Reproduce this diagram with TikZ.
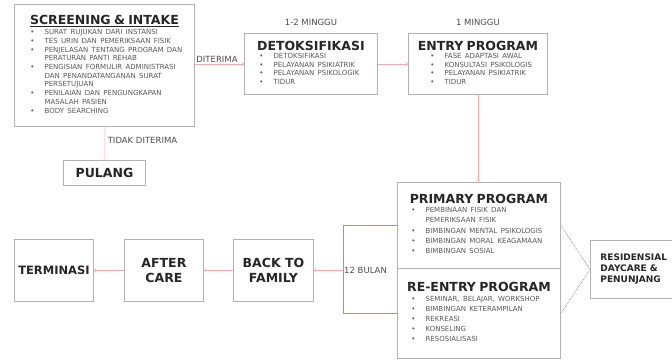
\documentclass[tikz,border=0pt]{standalone}
\usepackage{fontspec}
\setmainfont{DejaVu Sans}
\usepackage{tikz}
\usetikzlibrary{arrows,calc,positioning}
\definecolor{merahmuda}{RGB}{236,120,120}

\tikzset{
  kotak/.style={draw=black!30, line width=0.9pt, fill=white, anchor=north west, inner xsep=4pt, inner ysep=2pt},
  judul/.style={font=\fontsize{12.5}{15}\selectfont\bfseries, text=black!85, align=center},
  ket/.style={font=\fontsize{8.5}{10}\selectfont, text=black!70, inner sep=1pt},
  alur/.style={draw=red!35, line width=0.7pt, ->},
  kurung/.style={draw=merahmuda, line width=1pt},
  garis/.style={draw=black!45, densely dotted, line width=0.7pt},
}
\newcommand{\kepala}[1]{{\centering\fontsize{12.5}{15}\selectfont\bfseries\color{black!85}#1\par}\vspace{1pt}}
\newcommand{\daftar}[2][11pt]{{\noindent\fontsize{7}{8.7}\selectfont\color{black!65}\begin{tabular}{@{\hspace{#1}}l@{\hspace{10pt}}l@{}}#2\end{tabular}\par}}

\begin{document}
\begin{tikzpicture}[x=1pt,y=-1pt]
\fill[white] (0,0) rectangle (672,361);
\useasboundingbox (0,0) rectangle (672,361);

\node[kotak, minimum width=180pt, minimum height=122pt, text width=172pt] (screening) at (14,4) {\kepala{\underline{SCREENING \& INTAKE}}\daftar[12pt]{
\textbullet & SURAT RUJUKAN DARI INSTANSI\\
\textbullet & TES URIN DAN PEMERIKSAAN FISIK\\
\textbullet & PENJELASAN TENTANG PROGRAM DAN\\
 & PERATURAN PANTI REHAB\\
\textbullet & PENGISIAN FORMULIR ADMINISTRASI\\
 & DAN PENANDATANGANAN SURAT\\
 & PERSETUJUAN\\
\textbullet & PENILAIAN DAN PENGUNGKAPAN\\
 & MASALAH PASIEN\\
\textbullet & BODY SEARCHING\\}};

\node[kotak, minimum width=133pt, minimum height=61pt, text width=125pt] (detoks) at (244,33) {\kepala{DETOKSIFIKASI}\daftar{
\textbullet & DETOKSIFIKASI\\
\textbullet & PELAYANAN PSIKIATRIK\\
\textbullet & PELAYANAN PSIKOLOGIK\\
\textbullet & TIDUR\\}};
\node[ket, above=6pt of detoks] (lama1) {1-2 MINGGU};

\node[kotak, minimum width=139pt, minimum height=61pt, text width=131pt] (entry) at (408,33) {\kepala{ENTRY PROGRAM}\daftar[18pt]{
\textbullet & FASE ADAPTASI AWAL\\
\textbullet & KONSULTASI PSIKOLOGIS\\
\textbullet & PELAYANAN PSIKIATRIK\\
\textbullet & TIDUR\\}};
\node[ket, above=6pt of entry] (lama2) {1 MINGGU};

\node[kotak, minimum width=82pt, minimum height=25pt, judul] (pulang) at (63,160) {PULANG};

\node[kotak, minimum width=163pt, minimum height=86pt, text width=155pt] (primary) at (397,182) {\kepala{PRIMARY PROGRAM}\renewcommand{\arraystretch}{1.18}\daftar[10pt]{
\textbullet & PEMBINAAN FISIK DAN\\
 & PEMERIKSAAN FISIK\\
\textbullet & BIMBINGAN MENTAL PSIKOLOGIS\\
\textbullet & BIMBINGAN MORAL KEAGAMAAN\\
\textbullet & BIMBINGAN SOSIAL\\}};

\node[kotak, minimum width=163pt, minimum height=90pt, text width=155pt] (reentry) at (397,268) {\kepala{RE-ENTRY PROGRAM}\renewcommand{\arraystretch}{1.15}\daftar[10pt]{
\textbullet & SEMINAR, BELAJAR, WORKSHOP\\
\textbullet & BIMBINGAN KETERAMPILAN\\
\textbullet & REKREASI\\
\textbullet & KONSELING\\
\textbullet & RESOSIALISASI\\}};

\node[kotak, minimum width=95pt, minimum height=58pt, inner xsep=10pt, text width=75pt, align=left, font=\fontsize{9}{11}\selectfont\bfseries, text=black!85] (resid) at (590,240) {RESIDENSIAL\\DAYCARE \&\\PENUNJANG};

\node[kotak, minimum width=80pt, minimum height=62pt, judul] (back) at (233,239) {BACK TO\\FAMILY};
\node[kotak, minimum width=79pt, minimum height=62pt, judul] (after) at (124,239) {AFTER\\CARE};
\node[kotak, minimum width=79pt, minimum height=62pt, inner xsep=1pt, judul, font=\fontsize{11.5}{14}\selectfont\bfseries] (terminasi) at (14,239) {TERMINASI};

\draw[alur] (screening.east |- detoks.west) -- node[ket, above, pos=0.45] (terima) {DITERIMA} (detoks.west);
\draw[alur] (detoks.east) -- (entry.west);
\draw[alur] (entry.south) -- (entry.south |- primary.north);
\draw[alur, draw=red!12] (screening.south) -- node[ket, right=2pt, pos=0.42] (tolak) {TIDAK DITERIMA} (pulang.north);

\coordinate (kiri) at ($(primary.west)+(-54,0)$);
\draw[kurung] (primary.west) -- (kiri) |- (reentry.west);
\node[ket, anchor=west] (bulan) at (kiri |- back.east) {12 BULAN};
\draw[alur] (kiri |- back.east) -- (back.east);
\draw[alur] (back.west) -- (after.east);
\draw[alur] (after.west) -- (terminasi.east);

\draw[garis] (primary.east) -- (resid.west) -- (reentry.east);
\end{tikzpicture}
\end{document}
